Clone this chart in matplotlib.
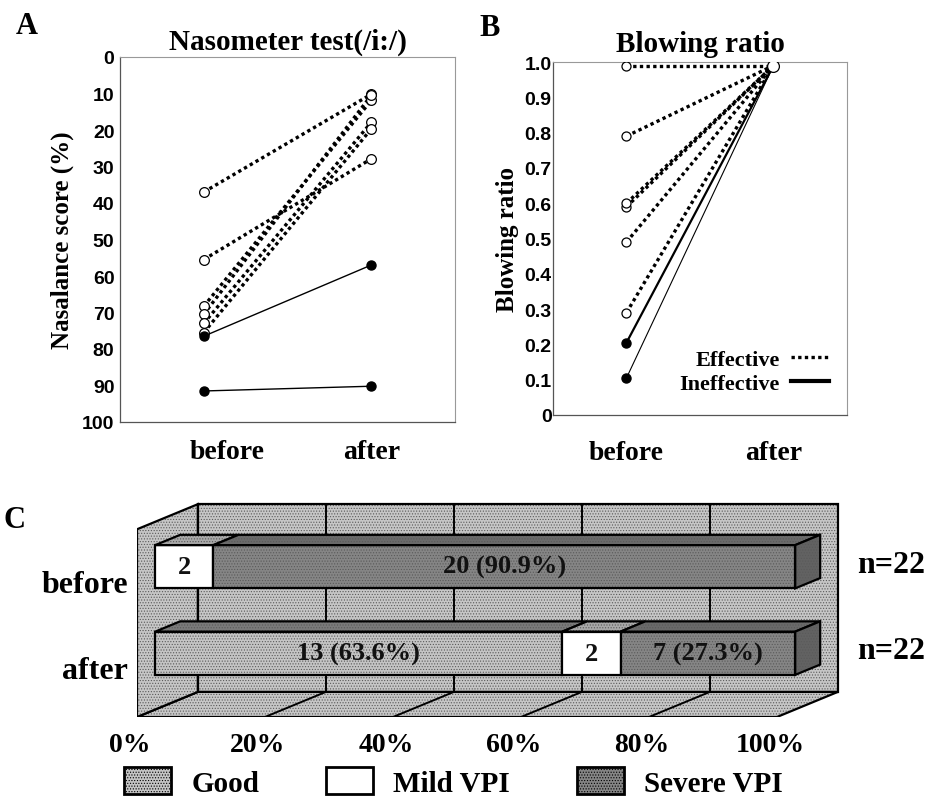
import numpy as np
import matplotlib
matplotlib.use("Agg")
from matplotlib import pyplot as plt
from matplotlib.patches import Polygon, Patch
from matplotlib.lines import Line2D
import matplotlib.transforms as mtransforms

SERIF = "Liberation Serif"
SANS = "Liberation Sans"
plt.rcParams["hatch.linewidth"] = 0.5

# ---- panel A: nasometer test (nasalance score, %) ----
nas_eff_before = [37.0, 55.5, 68.3, 70.5, 73.0, 75.5]
nas_eff_after = [10.2, 27.9, 11.9, 10.5, 17.9, 19.7]
nas_ineff_before = [76.5, 91.5]
nas_ineff_after = [57.0, 90.2]

# ---- panel B: blowing ratio ----
blow_eff_before = [0.99, 0.79, 0.59, 0.60, 0.49, 0.29]
blow_eff_after = [0.99, 0.99, 0.99, 0.99, 0.99, 0.99]
blow_ineff_before = [0.205, 0.105]
blow_ineff_after = [0.99, 0.99]

time_labels = ["before", "after"]

# ---- panel C: VPI classification ----
c_groups = ["before", "after"]
c_categories = ["Good", "Mild VPI", "Severe VPI"]
c_counts = {"before": [0, 2, 20], "after": [13, 2, 7]}
c_pct = {"before": [0.0, 9.1, 90.9], "after": [63.6, 9.1, 27.3]}
c_n = {"before": 22, "after": 22}
c_ticks = [0, 20, 40, 60, 80, 100]

DOT = (0, (1, 1))

fig = plt.figure(figsize=(9.29, 8.04), dpi=100)
W, H = 929, 804


def px_axes(l, t, r, b):
    return fig.add_axes([l / W, 1 - b / H, (r - l) / W, (b - t) / H])


def style_panel(ax):
    for side in ["top", "right"]:
        ax.spines[side].set_color("#999999")
        ax.spines[side].set_linewidth(0.8)
    for side in ["left", "bottom"]:
        ax.spines[side].set_color("#555555")
        ax.spines[side].set_linewidth(0.9)
    ax.tick_params(length=0)
    for lab in ax.get_yticklabels():
        lab.set_fontfamily(SANS)
        lab.set_fontweight("bold")
        lab.set_fontsize(14)
    for lab in ax.get_xticklabels():
        lab.set_fontfamily(SERIF)
        lab.set_fontweight("bold")
        lab.set_fontsize(20)


# ================= A =================
axA = px_axes(120, 58, 455, 423)
x = [0, 1]
for b, a in zip(nas_eff_before, nas_eff_after):
    axA.plot(x, [b, a], color="black", lw=2.4, linestyle=DOT, zorder=2)
    axA.plot(x, [b, a], linestyle="none", marker="o", ms=7, mfc="white",
             mec="black", mew=0.9, zorder=3)
for b, a in zip(nas_ineff_before, nas_ineff_after):
    axA.plot(x, [b, a], color="black", lw=1.0, zorder=2)
    axA.plot(x, [b, a], linestyle="none", marker="o", ms=6.5, color="black", zorder=3)
axA.set_xlim(-0.5, 1.5)
axA.set_ylim(100, 0)
axA.set_yticks(np.arange(0, 101, 10))
axA.set_xticks(x)
axA.set_xticklabels(time_labels)
axA.tick_params(axis="x", pad=12)
axA.tick_params(axis="y", pad=4)
axA.set_ylabel("Nasalance score (%)", fontfamily=SERIF, fontweight="bold",
               fontsize=18, labelpad=6)
axA.set_title("Nasometer test(/i:/)", fontfamily=SERIF, fontweight="bold",
              fontsize=21, pad=6)
style_panel(axA)
shift = mtransforms.ScaledTranslation(23 / 100, 0, fig.dpi_scale_trans)
first = axA.get_xticklabels()[0]
first.set_transform(first.get_transform() + shift)

# ================= B =================
axB = px_axes(553, 63, 847, 416)
for b, a in zip(blow_eff_before, blow_eff_after):
    axB.plot(x, [b, a], color="black", lw=2.4, linestyle=DOT, zorder=2)
    axB.plot([0], [b], linestyle="none", marker="o", ms=6.5, mfc="white",
             mec="black", mew=0.9, zorder=3)
for b, a, lw in zip(blow_ineff_before, blow_ineff_after, [1.6, 0.8]):
    axB.plot(x, [b, a], color="black", lw=lw, zorder=2)
    axB.plot([0], [b], linestyle="none", marker="o", ms=6.5, color="black", zorder=3)
axB.plot([1], [blow_eff_after[0]], linestyle="none", marker="o", ms=8.5, mfc="white",
         mec="black", mew=0.9, zorder=4)
axB.set_xlim(-0.5, 1.5)
axB.set_ylim(0, 1.0)
axB.set_yticks(np.arange(0, 1.01, 0.1))
axB.set_yticklabels(["0"] + [f"{v:.1f}" for v in np.arange(0.1, 1.01, 0.1)])
axB.set_xticks(x)
axB.set_xticklabels(time_labels)
axB.tick_params(axis="x", pad=18)
axB.tick_params(axis="y", pad=1)
axB.set_ylabel("Blowing ratio", fontfamily=SERIF, fontweight="bold",
               fontsize=18, labelpad=4)
axB.set_title("Blowing ratio", fontfamily=SERIF, fontweight="bold",
              fontsize=21, pad=8)
style_panel(axB)
handles = [Line2D([], [], color="black", lw=2.4, linestyle=DOT),
           Line2D([], [], color="black", lw=3.0)]
axB.legend(handles, ["Effective", "Ineffective"], loc="lower right",
           bbox_to_anchor=(0.99, 0.015), frameon=False, markerfirst=False,
           handlelength=1.7, handletextpad=0.5, labelspacing=0.15,
           borderpad=0.2, prop={"family": SERIF, "weight": "bold", "size": 16})

# ================= C =================
# pseudo 3D: x in percent, y in row units, depth z in [0, 1]
DX, DY = 9.5, 0.29
Y_LO, Y_HI = -0.65, 1.52
Z0, Z1 = 0.30, 0.71
BAR_H = 0.5
STIPPLE = "......"
wall = "#c6c6c6"
face_col = {"Good": "#c4c4c4", "Mild VPI": "white", "Severe VPI": "#858585"}
top_col = {"Good": "#7a7a7a", "Mild VPI": "#a8a8a8", "Severe VPI": "#6a6a6a"}
side_col = "#626262"

axC = px_axes(137, 502.6, 841, 718)
axC.set_xlim(0, 110)
axC.set_ylim(-0.65, 1.84)


def proj(p, y, z):
    return (p + z * DX, y + z * DY)


def face(pts, fc, lw=1.6, zorder=1):
    xy = [proj(*q) for q in pts]
    if fc == "white":
        axC.add_patch(Polygon(xy, closed=True, fc=fc, lw=0, zorder=zorder))
    else:
        axC.add_patch(Polygon(xy, closed=True, fc=fc, ec="#5a5a5a", lw=0,
                              hatch=STIPPLE, zorder=zorder))
    axC.add_patch(Polygon(xy, closed=True, fill=False, ec="black", lw=lw,
                          joinstyle="miter", zorder=zorder))


face([(0, Y_LO, 1), (100, Y_LO, 1), (100, Y_HI, 1), (0, Y_HI, 1)], wall)
face([(0, Y_LO, 0), (100, Y_LO, 0), (100, Y_LO, 1), (0, Y_LO, 1)], wall)
face([(0, Y_LO, 0), (0, Y_LO, 1), (0, Y_HI, 1), (0, Y_HI, 0)], wall)
for p in c_ticks[1:-1]:
    xs, ys = zip(proj(p, Y_LO, 1), proj(p, Y_HI, 1))
    axC.plot(xs, ys, color="black", lw=1.4, zorder=1.5)
    xs, ys = zip(proj(p, Y_LO, 1), proj(p, Y_LO, 0))
    axC.plot(xs, ys, color="black", lw=1.4, zorder=1.5)

rows = {"before": 1.0, "after": 0.0}
for g in c_groups:
    y = rows[g]
    lo, hi = y - BAR_H / 2, y + BAR_H / 2
    left = 0.0
    for cat, cnt, pct in zip(c_categories, c_counts[g], c_pct[g]):
        if pct <= 0:
            continue
        right = left + pct
        face([(left, lo, Z0), (right, lo, Z0), (right, hi, Z0), (left, hi, Z0)],
             face_col[cat], zorder=3)
        face([(left, hi, Z0), (right, hi, Z0), (right, hi, Z1), (left, hi, Z1)],
             top_col[cat], zorder=3)
        label = f"{cnt}" if cat == "Mild VPI" else f"{cnt} ({pct}%)"
        cx, cy = proj((left + right) / 2, y, Z0)
        axC.text(cx, cy, label, ha="center", va="center", fontfamily=SERIF,
                 fontweight="bold", fontsize=19, color="#111111", zorder=5)
        left = right
    face([(100, lo, Z0), (100, lo, Z1), (100, hi, Z1), (100, hi, Z0)],
         side_col, zorder=3)
    # row label and n
    _, ly = proj(0, y, Z0)
    axC.text(-1.4, ly - 0.2, g, ha="right", va="center", fontfamily=SERIF,
             fontweight="bold", fontsize=23)
    axC.text(112.5, ly + 0.03, f"n={c_n[g]}", ha="left", va="center",
             fontfamily=SERIF, fontweight="bold", fontsize=23)

axC.set_xticks(c_ticks)
axC.set_xticklabels([f"{t}%" for t in c_ticks], fontfamily=SERIF,
                    fontweight="bold", fontsize=20)
axC.set_yticks([])
axC.tick_params(axis="x", length=0, pad=11)
shiftC = mtransforms.ScaledTranslation(-7 / 100, 0, fig.dpi_scale_trans)
for lab in axC.get_xticklabels():
    lab.set_transform(lab.get_transform() + shiftC)
for s in axC.spines.values():
    s.set_visible(False)
axC.patch.set_visible(False)

leg_handles = [Patch(fc=face_col[c], ec="black", lw=2,
                     hatch=None if c == "Mild VPI" else STIPPLE)
               for c in c_categories]
fig.legend(leg_handles, c_categories, loc="center left",
           bbox_to_anchor=(98 / W, 1 - 783 / H), ncol=3, frameon=False,
           handlelength=1.6, handleheight=1.0, handletextpad=0.7,
           columnspacing=2.3, prop={"family": SERIF, "weight": "bold", "size": 21})

# panel letters
for letter, (lx, ly) in {"A": (27, 27), "B": (490, 29), "C": (15, 521)}.items():
    fig.text(lx / W, 1 - ly / H, letter, ha="center", va="center",
             fontfamily=SERIF, fontweight="bold", fontsize=22)

fig.savefig("out.png", dpi=100)
